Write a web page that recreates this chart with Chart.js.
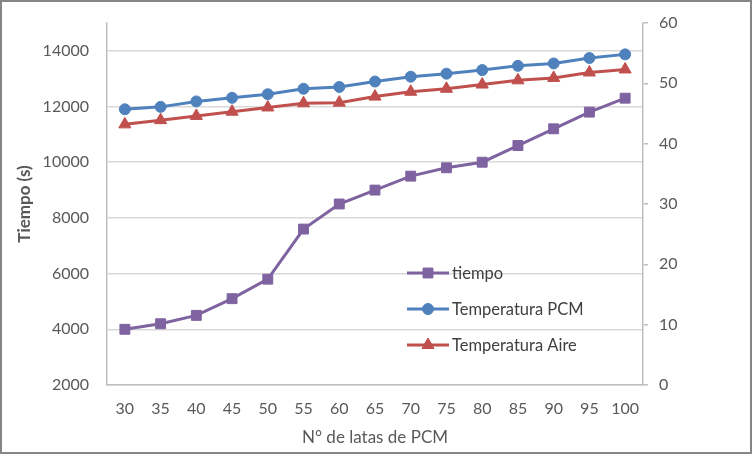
<!DOCTYPE html>
<html>
<head>
<meta charset="utf-8">
<script src="https://cdn.jsdelivr.net/npm/chart.js@4/dist/chart.umd.min.js"></script>
<style>
  body { margin: 0; background: #fff; }
  #wrap { width: 748px; height: 450px; border: 2px solid #868686; position: relative; }
</style>
</head>
<body>
<div id="wrap"><canvas id="canvas" width="748" height="450"></canvas></div>
<script>
const latas = ['30', '35', '40', '45', '50', '55', '60', '65', '70', '75', '80', '85', '90', '95', '100']
const tiempo = [4000, 4200, 4500, 5100, 5800, 7600, 8500, 9000, 9500, 9800, 10000, 10600, 11200, 11800, 12300]
const tempPCM = [45.7, 46.1, 47.0, 47.6, 48.2, 49.1, 49.4, 50.3, 51.1, 51.6, 52.2, 52.9, 53.3, 54.2, 54.8]
const tempAire = [43.2, 43.9, 44.6, 45.3, 46.0, 46.7, 46.8, 47.8, 48.6, 49.1, 49.8, 50.5, 50.9, 51.8, 52.3]
const tiempoTicks = [2000, 4000, 6000, 8000, 10000, 12000, 14000]

const textColor = '#595959'
const font = 'Lato'

// legend drawn inside the plot, like the original
const insideLegend = {
  id: 'insideLegend',
  afterDraw(chart) {
    const ctx = chart.ctx
    const x0 = 405, x1 = 447, y0 = 271, gap = 36
    ctx.save()
    chart.data.datasets.forEach((ds, i) => {
      const y = y0 + i * gap
      ctx.strokeStyle = ds.borderColor
      ctx.lineWidth = 3
      ctx.beginPath()
      ctx.moveTo(x0, y)
      ctx.lineTo(x1, y)
      ctx.stroke()
      ctx.fillStyle = ds.backgroundColor
      ctx.lineWidth = 1
      Chart.helpers.drawPoint(ctx, { pointStyle: ds.pointStyle, radius: ds.pointRadius, borderWidth: 1 }, (x0 + x1) / 2, y)
      ctx.fillStyle = '#404040'
      ctx.font = '16.5px ' + font
      ctx.textBaseline = 'middle'
      ctx.fillText(ds.label, x1 + 3, y + 1)
    })
    ctx.restore()
  }
}

const ctx = document.querySelector('#canvas').getContext('2d')

const config = {
  type: 'line',
  data: {
    labels: latas,
    datasets: [
      {
        label: 'tiempo',
        data: tiempo,
        yAxisID: 'y',
        borderColor: '#7f63a1',
        backgroundColor: '#7f63a1',
        borderWidth: 3,
        pointStyle: 'rect',
        pointRadius: 7,
        pointBorderWidth: 1
      },
      {
        label: 'Temperatura PCM',
        data: tempPCM,
        yAxisID: 'y1',
        borderColor: '#4f81bd',
        backgroundColor: '#4f81bd',
        borderWidth: 3,
        pointStyle: 'circle',
        pointRadius: 5.5,
        pointBorderWidth: 1
      },
      {
        label: 'Temperatura Aire',
        data: tempAire,
        yAxisID: 'y1',
        borderColor: '#c0504d',
        backgroundColor: '#c0504d',
        borderWidth: 3,
        pointStyle: 'triangle',
        pointRadius: 7,
        pointBorderWidth: 1
      }
    ]
  },
  options: {
    responsive: false,
    animation: false,
    layout: { padding: { top: 21, left: 0, right: 0, bottom: 0 } },
    plugins: {
      legend: { display: false },
      tooltip: { enabled: false }
    },
    scales: {
      x: {
        offset: true,
        grid: { display: false, drawTicks: false },
        border: { color: '#bfbfbf', width: 1.5 },
        ticks: { color: textColor, font: { family: font, size: 16 }, padding: 14, maxRotation: 0 },
        title: { display: true, text: 'N° de latas de PCM', color: textColor, font: { family: font, size: 17 }, padding: { top: 0, bottom: 4 } },
        afterFit: s => { s.height = 67 }
      },
      y: {
        position: 'left',
        min: 2000,
        max: 15000,
        grid: { color: '#d9d9d9', lineWidth: 1.5, tickLength: 15, tickColor: 'rgba(0,0,0,0)' },
        border: { color: '#bfbfbf', width: 1.5 },
        ticks: { color: textColor, font: { family: font, size: 16 }, padding: 3, callback: v => String(v) },
        afterBuildTicks: s => { s.ticks = tiempoTicks.map(v => ({ value: v })) },
        title: { display: true, text: 'Tiempo (s)', color: textColor, font: { family: font, size: 17, weight: 'bold' }, padding: { top: 12, bottom: 0 } },
        afterFit: s => { s.width = 105 }
      },
      y1: {
        position: 'right',
        min: 0,
        max: 60,
        grid: { drawOnChartArea: false, color: '#bfbfbf', tickLength: 5, lineWidth: 1.5 },
        border: { color: '#bfbfbf', width: 1.5 },
        ticks: { stepSize: 10, color: textColor, font: { family: font, size: 16 }, padding: 11 },
        afterFit: s => { s.width = 107 }
      }
    }
  },
  plugins: [insideLegend]
}

const myChart = new Chart(ctx, config)
</script>
</body>
</html>
